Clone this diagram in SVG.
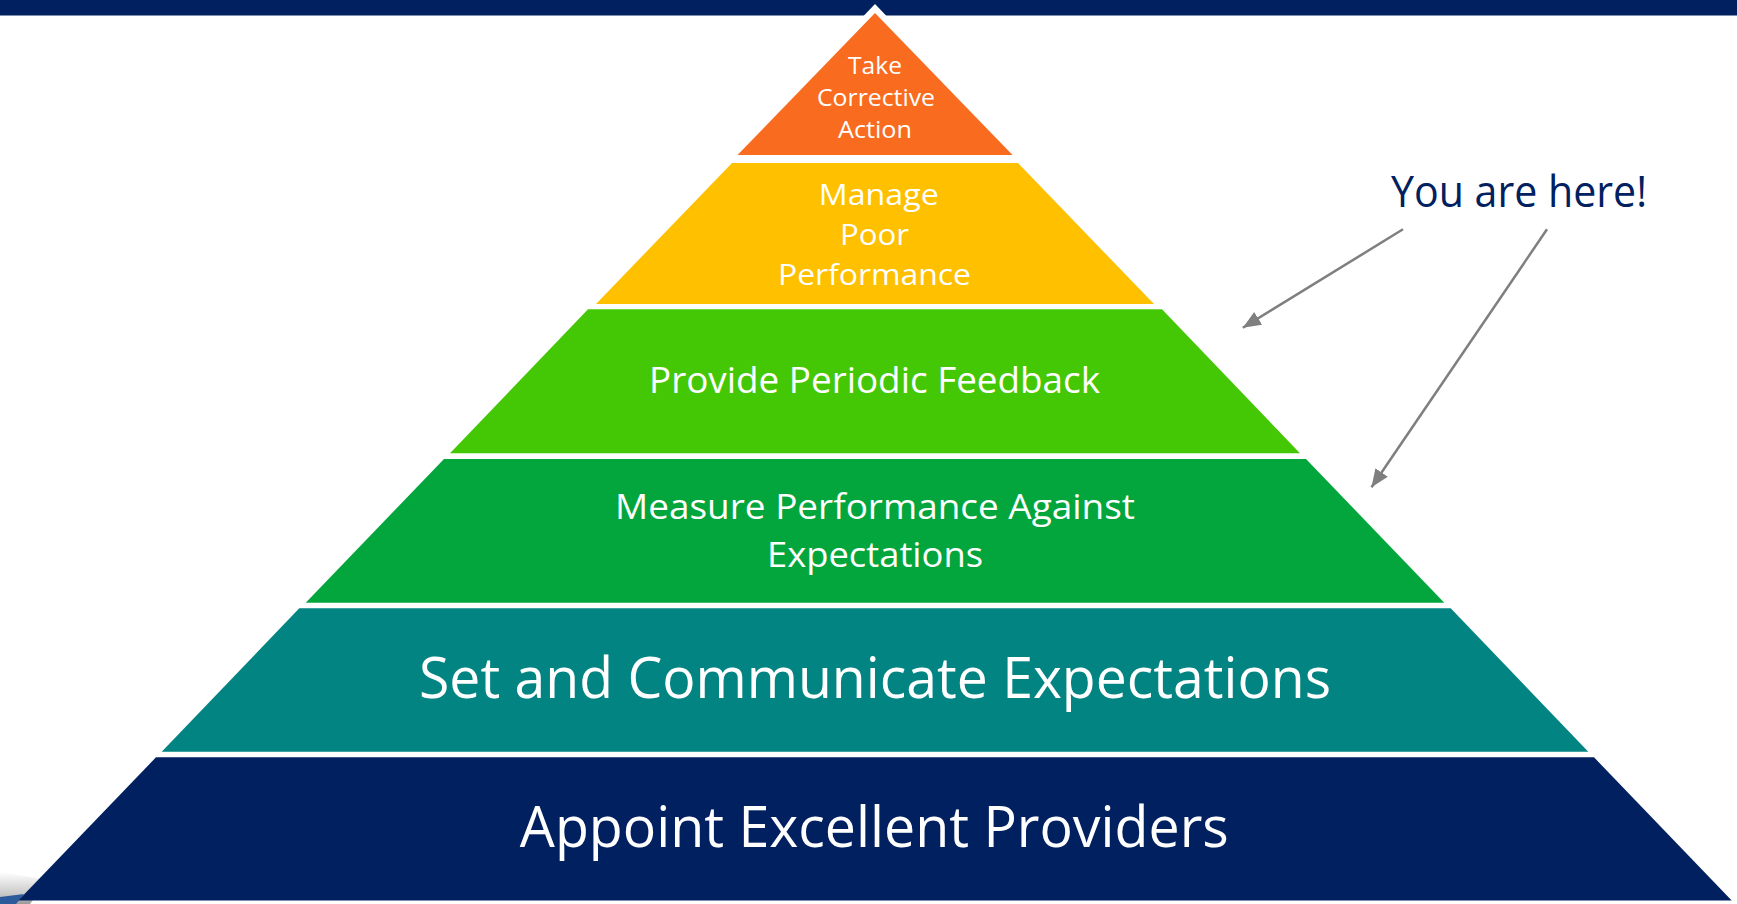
<svg xmlns="http://www.w3.org/2000/svg" width="1737" height="904" viewBox="0 0 1737 904">
  <style>
    .lbl { font-family: "Open Sans", "Noto Sans", "Liberation Sans", sans-serif; fill: #FFFFFF; text-anchor: middle; }
    .note { font-family: "Open Sans", "Noto Sans", "Liberation Sans", sans-serif; fill: #002060; text-anchor: middle; }
    .conn { stroke: #7F7F7F; stroke-width: 2.5; fill: none; marker-end: url(#arrow); }
  </style>
  <defs>
    <marker id="arrow" markerUnits="userSpaceOnUse" markerWidth="18" markerHeight="16" refX="18" refY="7.5" orient="auto">
      <path d="M0,0 L18,7.5 L0,15 Z" fill="#7F7F7F"/>
    </marker>
    <linearGradient id="swoosh" x1="0" y1="0" x2="0" y2="1">
      <stop offset="0" stop-color="#FFFFFF"/>
      <stop offset="0.7" stop-color="#C8C8C8"/>
      <stop offset="1" stop-color="#9A9A9A"/>
    </linearGradient>
  </defs>
  <rect x="0" y="0" width="1737" height="904" fill="#FFFFFF"/>
  <rect id="top-bar" x="0" y="0" width="1737" height="15.5" fill="#002060"/>
  <g id="corner-photo">
    <path d="M0,872 L48,880 L30,904 L0,904 Z" fill="url(#swoosh)"/>
    <path d="M0,897 L24,894 L16,904 L0,904 Z" fill="#2B5B9A"/>
  </g>

  <g id="level-6-take-corrective-action">
    <polygon points="875,4 898,28 852,28" fill="#FFFFFF"/>
    <polygon points="875,13 1012.5,155 737.5,155" fill="#F96B1E"/>
    <text class="lbl" font-size="23" x="875" y="74" textLength="54" lengthAdjust="spacingAndGlyphs">Take</text>
    <text class="lbl" font-size="23" x="876" y="106" textLength="118" lengthAdjust="spacingAndGlyphs">Corrective</text>
    <text class="lbl" font-size="23" x="875" y="138.3" textLength="74" lengthAdjust="spacingAndGlyphs">Action</text>
  </g>

  <g id="level-5-manage-poor-performance">
    <polygon points="732,163 1018,163 1154,304 596,304" fill="#FFC000"/>
    <text class="lbl" font-size="29.5" x="878.8" y="205" textLength="120" lengthAdjust="spacingAndGlyphs">Manage</text>
    <text class="lbl" font-size="29.5" x="874.6" y="245" textLength="69" lengthAdjust="spacingAndGlyphs">Poor</text>
    <text class="lbl" font-size="29.5" x="874.5" y="285" textLength="193" lengthAdjust="spacingAndGlyphs">Performance</text>
  </g>

  <g id="level-4-provide-periodic-feedback">
    <polygon points="588,309.3 1162,309.3 1300,453.3 450,453.3" fill="#44C805"/>
    <text class="lbl" font-size="36.5" x="874.5" y="393.3" textLength="451" lengthAdjust="spacingAndGlyphs">Provide Periodic Feedback</text>
  </g>

  <g id="level-3-measure-performance">
    <polygon points="444,459 1306,459 1444.3,602.7 305.7,602.7" fill="#03A63C"/>
    <text class="lbl" font-size="34.5" x="875" y="519.3" textLength="520" lengthAdjust="spacingAndGlyphs">Measure Performance Against</text>
    <text class="lbl" font-size="34.5" x="875" y="566.7" textLength="216" lengthAdjust="spacingAndGlyphs">Expectations</text>
  </g>

  <g id="level-2-set-expectations">
    <polygon points="299.3,608.3 1450.7,608.3 1588.3,751.7 161.7,751.7" fill="#018482"/>
    <text class="lbl" font-size="57" x="875" y="698.3" textLength="912" lengthAdjust="spacingAndGlyphs">Set and Communicate Expectations</text>
  </g>

  <g id="level-1-appoint-providers">
    <polygon points="156,757.3 1594,757.3 1731.7,900.5 18.3,900.5" fill="#002060"/>
    <text class="lbl" font-size="57" x="874.3" y="847.3" textLength="709" lengthAdjust="spacingAndGlyphs">Appoint Excellent Providers</text>
  </g>

  <g id="note-you-are-here">
    <text class="note" font-size="43" x="1519" y="206.7" textLength="256" lengthAdjust="spacingAndGlyphs">You are here!</text>
  </g>

  <g id="connectors">
    <line class="conn" x1="1403" y1="229.3" x2="1242.8" y2="327.7"/>
    <line class="conn" x1="1547" y1="229.3" x2="1371.5" y2="487.3"/>
  </g>
</svg>
